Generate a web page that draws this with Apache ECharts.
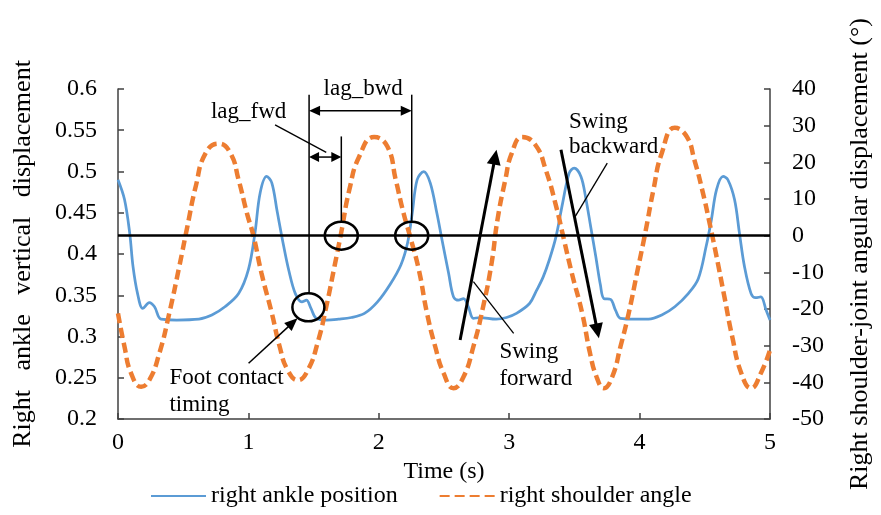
<!DOCTYPE html>
<html>
<head>
<meta charset="utf-8">
<script src="https://cdn.jsdelivr.net/npm/echarts@6/dist/echarts.min.js"></script>
<style>html,body{margin:0;padding:0;background:#fff}#c{width:881px;height:515px}</style>
</head>
<body>
<div id="c"></div>
<script>
// ---------- data ----------
const ankleTime = [0.00,0.05,0.09,0.115,0.15,0.19,0.24,0.28,0.33,0.45,0.62,0.72,0.82,0.925,1.00,1.05,1.09,1.14,1.18,1.22,1.27,1.31,1.36,1.41,1.445,1.48,1.52,1.60,1.69,1.79,1.89,1.99,2.09,2.17,2.22,2.256,2.294,2.345,2.395,2.446,2.485,2.535,2.573,2.611,2.65,2.687,2.725,2.776,2.90,2.98,3.055,3.156,3.207,3.26,3.308,3.359,3.41,3.46,3.498,3.55,3.587,3.625,3.663,3.70,3.726,3.777,3.815,3.853,3.967,4.068,4.17,4.27,4.373,4.45,4.51,4.55,4.59,4.64,4.677,4.728,4.766,4.804,4.855,4.89,4.93,4.97,5.00];
const ankleValue = [0.490,0.466,0.425,0.385,0.352,0.334,0.341,0.336,0.321,0.320,0.321,0.326,0.336,0.352,0.381,0.425,0.474,0.494,0.486,0.452,0.410,0.380,0.352,0.342,0.344,0.334,0.322,0.320,0.321,0.323,0.328,0.342,0.364,0.387,0.413,0.449,0.490,0.500,0.486,0.449,0.417,0.377,0.348,0.344,0.346,0.336,0.322,0.323,0.321,0.323,0.328,0.340,0.355,0.372,0.393,0.421,0.462,0.498,0.504,0.494,0.468,0.433,0.398,0.362,0.346,0.345,0.332,0.322,0.321,0.321,0.326,0.336,0.352,0.370,0.409,0.441,0.478,0.494,0.490,0.466,0.425,0.385,0.352,0.347,0.348,0.332,0.320];
const shoulderTime = [0.00,0.05,0.10,0.178,0.24,0.317,0.393,0.47,0.532,0.596,0.672,0.773,0.862,0.925,0.989,1.04,1.10,1.18,1.24,1.30,1.38,1.457,1.534,1.597,1.66,1.711,1.774,1.85,1.964,2.066,2.13,2.19,2.24,2.307,2.37,2.433,2.497,2.573,2.65,2.725,2.80,2.865,2.91,2.97,3.02,3.10,3.20,3.28,3.36,3.42,3.48,3.56,3.62,3.67,3.726,3.79,3.853,3.916,3.98,4.043,4.106,4.17,4.27,4.36,4.42,4.486,4.537,4.59,4.65,4.71,4.78,4.855,4.93,5.00];
const shoulderValue = [-21.2,-30.3,-37.5,-41.2,-39.4,-32.1,-21.2,-8.4,2.5,13.4,22.5,25.1,22.5,15.2,6.1,-0.2,-10.2,-21.2,-30.3,-36.6,-39.4,-36.6,-28.8,-19.4,-8.4,0.7,12.5,21.6,26.9,24.3,15.2,6.1,-0.2,-9.3,-21.2,-30.3,-37.5,-41.6,-38.5,-30.3,-19.4,-7.5,4.3,15.2,22.5,26.9,24.8,18.0,8.0,-1.1,-10.2,-21.2,-32.1,-38.5,-41.6,-38.5,-30.3,-21.2,-10.2,0.7,12.5,22.5,29.4,27.1,20.7,11.6,3.4,-5.7,-16.6,-27.5,-37.5,-41.6,-37.5,-31.2];
const xTickLabels = ['0','1','2','3','4','5'];
const leftTickLabels = ['0.2','0.25','0.3','0.35','0.4','0.45','0.5','0.55','0.6'];
const rightTickLabels = ['-50','-40','-30','-20','-10','0','10','20','30','40'];
const seriesNames = ['right ankle position','right shoulder angle'];

const FONT = "'Liberation Serif','Times New Roman',serif";
const AX = '#404040';
const chart = echarts.init(document.getElementById('c'));

const axisCommon = {
  splitLine:{show:false},
  axisLine:{show:true,onZero:false,lineStyle:{color:AX,width:1.5}},
  axisTick:{show:true,inside:true,length:6,lineStyle:{color:AX,width:1.5}},
};

chart.setOption({
  animation:false,
  backgroundColor:'#fff',
  grid:{left:118,right:105,top:89,bottom:96},
  xAxis:Object.assign({type:'value',min:0,max:5,interval:1,
    name:'Time (s)',nameLocation:'middle',nameGap:36,
    nameTextStyle:{fontFamily:FONT,fontSize:24,color:'#000'},
    axisLabel:{margin:12,fontFamily:FONT,fontSize:24,color:'#000',
      formatter:v=>xTickLabels[Math.round(v)]}},axisCommon),
  yAxis:[
    Object.assign({type:'value',position:'left',min:0.2,max:0.6,interval:0.05,
      name:'Right   ankle   vertical   displacement',nameLocation:'middle',nameRotate:90,nameGap:82,
      nameTextStyle:{fontFamily:FONT,fontSize:26,color:'#000'},
      axisLabel:{margin:21,fontFamily:FONT,fontSize:24,color:'#000',
        formatter:v=>leftTickLabels[Math.round((v-0.2)/0.05)]}},axisCommon),
    Object.assign({type:'value',position:'right',min:-50,max:40,interval:10,
      name:'Right shoulder-joint angular displacement (°)',nameLocation:'middle',nameRotate:90,nameGap:77,
      nameTextStyle:{fontFamily:FONT,fontSize:26,color:'#000'},
      axisLabel:{margin:22,fontFamily:FONT,fontSize:24,color:'#000',
        formatter:v=>rightTickLabels[Math.round((v+50)/10)]}},axisCommon)
  ],
  legend:{left:145,bottom:2,itemWidth:55,itemHeight:14,itemGap:41,
    itemStyle:{opacity:0},
    textStyle:{fontFamily:FONT,fontSize:24,color:'#000'},
    data:seriesNames},
  series:[
    {name:seriesNames[0],type:'line',yAxisIndex:0,symbol:'none',smooth:0.35,
      data:ankleTime.map((t,i)=>[t,ankleValue[i]]),
      lineStyle:{color:'#5B9BD5',width:2.75},itemStyle:{color:'#5B9BD5'},z:2},
    {name:seriesNames[1],type:'line',yAxisIndex:1,symbol:'none',smooth:0.5,
      data:shoulderTime.map((t,i)=>[t,shoulderValue[i]]),
      lineStyle:{color:'#ED7D31',width:4.5,type:[10,5],cap:'butt'},itemStyle:{color:'#ED7D31'},z:3,
      markLine:{silent:true,symbol:['none','none'],label:{show:false},
        lineStyle:{color:'#000',width:2.5,type:'solid'},data:[{yAxis:0}],z:4}}
  ]
});

// ---------- annotations (placed in data units: time, ankle value) ----------
const P = (t,v)=>chart.convertToPixel({xAxisIndex:0,yAxisIndex:0},[t,v]);
const g = [];
function line(a,b,w){g.push({type:'line',z:10,shape:{x1:a[0],y1:a[1],x2:b[0],y2:b[1]},style:{stroke:'#000',lineWidth:w}});}
function head(tip,from,L,W){
  const dx=tip[0]-from[0],dy=tip[1]-from[1],d=Math.hypot(dx,dy),ux=dx/d,uy=dy/d;
  const bx=tip[0]-ux*L,by=tip[1]-uy*L;
  g.push({type:'polygon',z:11,shape:{points:[tip,[bx-uy*W,by+ux*W],[bx+uy*W,by-ux*W]]},style:{fill:'#000'}});
  return [bx+ux*1,by+uy*1];
}
function arrow(a,b,w,L,W,both){
  let s=a,e=b;
  e=head(b,a,L,W);
  if(both) s=head(a,b,L,W);
  line(s,e,w);
}
function ell(c,rx,ry){g.push({type:'ellipse',z:12,shape:{cx:c[0],cy:c[1],rx:rx,ry:ry},style:{fill:'none',stroke:'#000',lineWidth:2.5}});}
function txt(p,s,align){g.push({type:'text',z:13,x:p[0],y:p[1],style:{text:s,font:'23px '+FONT,fill:'#000',align:align||'left',verticalAlign:'middle'}});}

// vertical markers
line(P(1.4654,0.5931),P(1.4654,0.3524),1.5);
line(P(1.7125,0.5425),P(1.7125,0.4392),1.5);
line(P(2.2525,0.5931),P(2.2525,0.4392),1.5);
// lag arrows
arrow(P(1.4654,0.5737),P(2.2525,0.5737),1.5,11,5,true);
arrow(P(1.4654,0.5175),P(1.7125,0.5175),1.5,10,5,true);
line(P(1.2046,0.5566),P(1.597,0.5231),1.3);
txt(P(1.0015,0.5716),'lag_fwd','center');
txt(P(1.88,0.6003),'lag_bwd','center');
// circles
ell(P(1.460,0.3354),16,14);
ell(P(1.7125,0.42222),16.5,14);
ell(P(2.2525,0.42222),16.5,14);
// foot contact
arrow(P(1.0015,0.2675),P(1.3764,0.3221),1.5,13,5.5,false);
txt(P(0.394,0.2497),'Foot contact');
txt(P(0.394,0.2169),'timing');
// swing forward
arrow(P(2.6236,0.2957),P(2.9027,0.5263),3,15,7,false);
line(P(2.7255,0.3665),P(3.0342,0.3039),1.3);
txt(P(2.925,0.2812),'Swing');
txt(P(2.925,0.2484),'forward');
// swing backward
arrow(P(3.397,0.5263),P(3.688,0.2978),3,15,7,false);
line(P(3.752,0.5102),P(3.5057,0.4454),1.3);
txt(P(3.4578,0.5603),'Swing');
txt(P(3.4578,0.5300),'backward');

chart.setOption({graphic:g});
</script>
</body>
</html>
